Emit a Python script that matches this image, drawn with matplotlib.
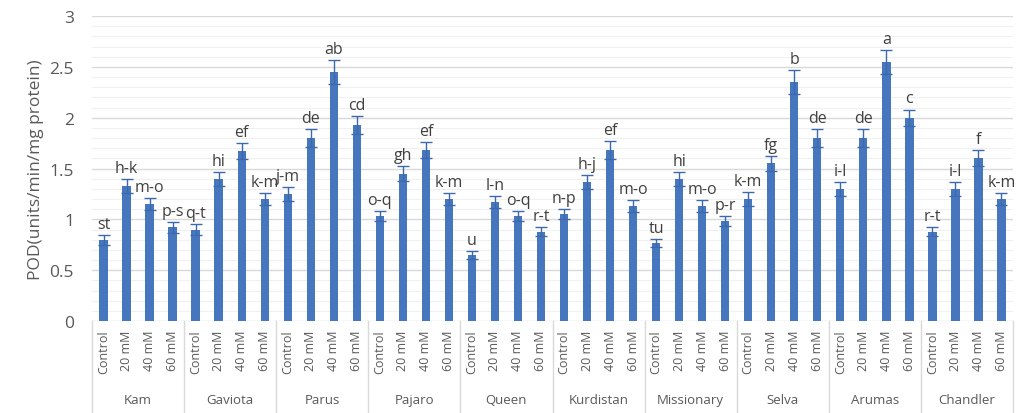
import matplotlib
matplotlib.use("Agg")
import matplotlib.pyplot as plt
import matplotlib.transforms as mtransforms
import numpy as np

plt.rcParams['font.family'] = ['Open Sans', 'DejaVu Sans']

cultivars = ["Kam", "Gaviota", "Parus", "Pajaro", "Queen",
             "Kurdistan", "Missionary", "Selva", "Arumas", "Chandler"]
treatments = ["Control", "20 mM", "40 mM", "60 mM"]

pod_values = [
    0.80, 1.33, 1.15, 0.92,   # Kam
    0.90, 1.40, 1.67, 1.20,   # Gaviota
    1.25, 1.80, 2.45, 1.93,   # Parus
    1.03, 1.45, 1.68, 1.20,   # Pajaro
    0.65, 1.17, 1.03, 0.88,   # Queen
    1.05, 1.37, 1.68, 1.13,   # Kurdistan
    0.77, 1.40, 1.13, 0.98,   # Missionary
    1.20, 1.55, 2.35, 1.80,   # Selva
    1.30, 1.80, 2.55, 2.00,   # Arumas
    0.88, 1.30, 1.60, 1.20,   # Chandler
]
pod_errors = [
    0.05, 0.07, 0.06, 0.05,
    0.05, 0.07, 0.08, 0.06,
    0.07, 0.09, 0.12, 0.09,
    0.05, 0.07, 0.08, 0.06,
    0.04, 0.06, 0.05, 0.04,
    0.05, 0.07, 0.09, 0.06,
    0.04, 0.07, 0.06, 0.05,
    0.07, 0.07, 0.12, 0.09,
    0.07, 0.09, 0.12, 0.08,
    0.04, 0.07, 0.08, 0.06,
]
letters = [
    "st", "h-k", "m-o", "p-s",
    "q-t", "hi", "ef", "k-m",
    "j-m", "de", "ab", "cd",
    "o-q", "gh", "ef", "k-m",
    "u", "l-n", "o-q", "r-t",
    "n-p", "h-j", "ef", "m-o",
    "tu", "hi", "m-o", "p-r",
    "k-m", "fg", "b", "de",
    "i-l", "de", "a", "c",
    "r-t", "i-l", "f", "k-m",
]

bar_color = "#4677BE"
grid_color = "#d9d9d9"
text_color = "#595959"

fig = plt.figure(figsize=(10.16, 4.14), dpi=100)
ax = fig.add_axes([92 / 1016, (414 - 322) / 414, (1013 - 92) / 1016, 305 / 414])

x = np.arange(len(pod_values))
ax.bar(x, pod_values, width=0.36, color=bar_color, zorder=3)
ax.errorbar(x, pod_values, yerr=pod_errors, fmt="none", ecolor="#3d68ad",
            elinewidth=1.0, capsize=4, capthick=1.0, zorder=4)

for xi, v, e, lab in zip(x, pod_values, pod_errors, letters):
    ax.text(xi, v + e + 0.03, lab, ha="center", va="bottom",
            fontsize=11.5, color="#404040", zorder=5)

ax.set_xlim(-0.5, len(pod_values) - 0.5)
ax.set_ylim(0, 3)
ax.set_yticks(np.arange(0, 3.01, 0.5))
ax.set_yticklabels(["0", "0.5", "1", "1.5", "2", "2.5", "3"])
ax.set_yticks(np.arange(0, 3.01, 0.1), minor=True)
ax.grid(axis="y", which="major", color=grid_color, linewidth=1.0, zorder=0)
ax.grid(axis="y", which="minor", color="#f0f0f0", linewidth=0.8, zorder=0)
ax.tick_params(axis="y", which="both", length=0, labelsize=12.5,
               labelcolor=text_color, pad=13)

ax.set_xticks(x)
ax.set_xticklabels(treatments * len(cultivars), rotation=90, fontsize=9,
                   color=text_color)
ax.tick_params(axis="x", length=0, pad=6)

for side in ["top", "right", "left", "bottom"]:
    ax.spines[side].set_visible(False)

ax.set_ylabel("POD(units/min/mg protein)", fontsize=12.5, color=text_color,
              labelpad=4)

# category table below the axis
trans = mtransforms.blended_transform_factory(ax.transData, ax.transAxes)
for b in np.arange(-0.5, len(pod_values), 4):
    ax.plot([b, b], [0, -0.31], transform=trans, color=grid_color,
            linewidth=1.0, clip_on=False)
for i, name in enumerate(cultivars):
    ax.text(4 * i + 1.5, -0.256, name, transform=trans, ha="center",
            va="center", fontsize=9.5, color=text_color)

fig.savefig("out.png", dpi=100)
